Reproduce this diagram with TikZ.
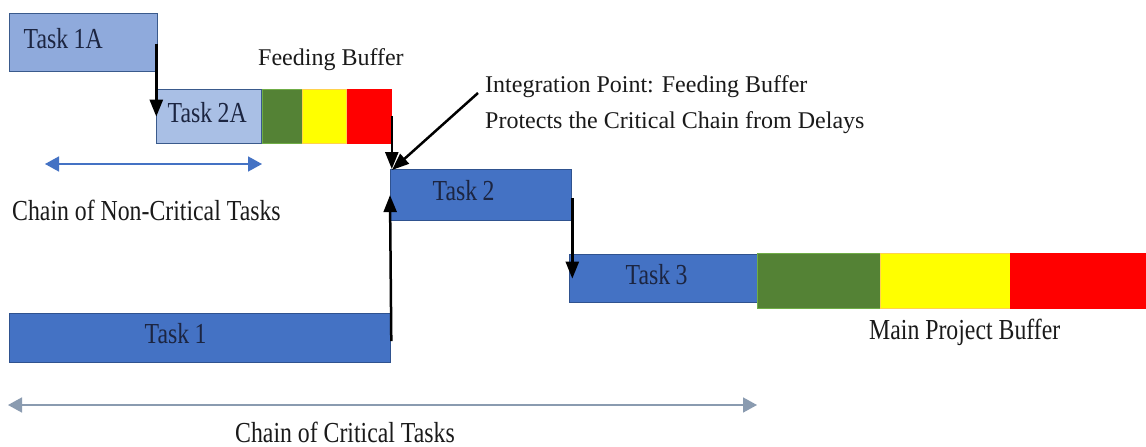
\documentclass[tikz,border=0pt]{standalone}
\usepackage{fontspec}
\setmainfont{Liberation Serif}
\newfontfamily\narrowserif[FakeStretch=0.82]{Liberation Serif}
\usetikzlibrary{arrows.meta,calc}
\definecolor{lightA}{HTML}{8FAADC}
\definecolor{lightB}{HTML}{A9BFE5}
\definecolor{lightedge}{HTML}{3A5A8C}
\definecolor{taskblue}{HTML}{4472C4}
\definecolor{taskedge}{HTML}{2F528F}
\definecolor{navytext}{HTML}{1C2541}
\definecolor{bufgreen}{HTML}{548235}
\definecolor{bufgreenedge}{HTML}{70AD47}
\definecolor{bufyellow}{HTML}{FFFF00}
\definecolor{bufyellowedge}{HTML}{FFD24D}
\definecolor{bufred}{HTML}{FF0000}
\definecolor{chainline}{HTML}{8A9BB0}
\definecolor{labeltext}{HTML}{1A1A1A}
\tikzset{
  taskfont/.style={font=\narrowserif\fontsize{29}{34}\selectfont},
  taskbox/.style={draw, line width=1.3pt, anchor=north west, inner ysep=0pt,
    align=left, taskfont, text depth=9pt, text=navytext,
    execute at begin node={\spaceskip=5.5pt\relax}},
  lighttask/.style={taskbox, fill=lightA, draw=lightedge},
  lighttaskb/.style={taskbox, fill=lightB, draw=lightedge},
  darktask/.style={taskbox, fill=taskblue, draw=taskedge},
  bufbox/.style={anchor=north west, inner sep=0pt, line width=0.8pt},
  bufg/.style={bufbox, fill=bufgreen, draw=bufgreenedge},
  bufy/.style={bufbox, fill=bufyellow, draw=bufyellowedge},
  bufr/.style={bufbox, fill=bufred, draw=bufred},
  plainlabel/.style={font=\fontsize{24}{36.5}\selectfont, text=labeltext, inner sep=0pt},
  narrowlabel/.style={taskfont, text=labeltext, inner sep=0pt},
  flow/.style={draw=black, line width=2.5pt, -{Triangle[length=17pt,width=13pt]}},
  span/.style={line width=1.6pt, {Triangle[length=14pt,width=15pt]}-{Triangle[length=14pt,width=15pt]}}
}
\begin{document}
\begin{tikzpicture}[x=1pt,y=-1pt]
\useasboundingbox[fill=white] (0,0) rectangle (1146,447);

% non-critical chain
\node[lighttask, inner xsep=14pt, text width=120pt, minimum height=58pt] (t1a) at (9,13) {Task 1A};
\node[lighttaskb, inner xsep=11pt, text width=83pt, minimum height=54pt] (t2a) at (156,89) {Task 2A};

% feeding buffer
\node[bufg, minimum width=40pt, minimum height=54pt] (fbg) at (262,89) {};
\node[bufy, minimum width=44pt, minimum height=54pt] (fby) at (302,89) {};
\node[bufr, minimum width=44pt, minimum height=54pt] (fbr) at (347,89) {};
\node[plainlabel, anchor=base west] (fbl) at (258,65) {Feeding Buffer};

% critical chain
\node[darktask, inner xsep=135pt, text width=111pt, minimum height=49pt] (t1) at (9,313) {Task 1};
\node[darktask, inner xsep=42pt, text width=97pt, minimum height=51pt] (t2) at (390,169) {Task 2};
\node[darktask, inner xsep=56pt, text width=76pt, minimum height=48pt] (t3) at (569,254) {Task 3};

% main project buffer
\node[bufg, minimum width=123pt, minimum height=55pt] (mbg) at (757,253) {};
\node[bufy, minimum width=130pt, minimum height=55pt] (mby) at (880,253) {};
\node[bufr, minimum width=136pt, minimum height=55pt] (mbr) at (1010,253) {};
\node[narrowlabel, anchor=base west] (mpl) at (869,339) {Main Project Buffer};

% integration point label
\node[plainlabel, anchor=north west, align=left] (intg) at (485,75)
  {Integration Point: Feeding Buffer\\Protects the Critical Chain from Delays};
\coordinate (ip) at (478,93);

% dependency arrows
\draw[flow] ([xshift=-2pt,yshift=-1pt]t1a.east) -- ([xshift=-2pt]t1a.east |- t2a.center);
\draw[flow] (fbr.east) -- (fbr.east |- t2.north);
\draw[flow] (ip) -- ([xshift=2pt,yshift=-1pt]t2.north west);
\draw[flow] ([yshift=-3pt]t1.east) -- (t2.west);
\draw[flow] ([yshift=-3pt]t2.east) -- (t2.east |- t3.west);

% chain spans
\coordinate (nc1) at (45,164);
\coordinate (nc2) at (262,164);
\draw[span, draw=taskblue, fill=taskblue] (nc1) -- (nc2);
\node[narrowlabel, anchor=base west] (ncl) at (12,220) {Chain of Non-Critical Tasks};

\coordinate (c1) at (8,405);
\coordinate (c2) at (757,405);
\draw[span, draw=chainline, fill=taskblue] (c1) -- (c2);
\node[narrowlabel, anchor=base west] (cl) at (235,442) {Chain of Critical Tasks};
\end{tikzpicture}
\end{document}
